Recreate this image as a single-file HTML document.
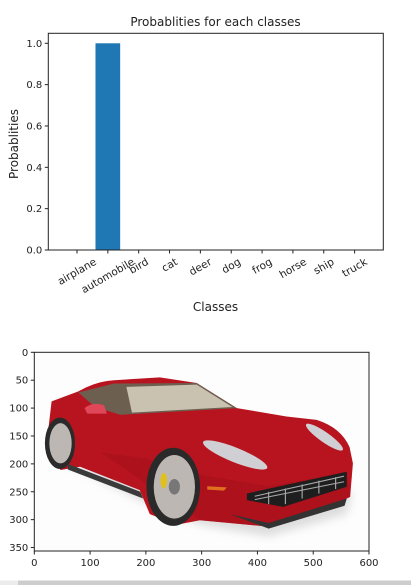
<!DOCTYPE html>
<html><head><meta charset="utf-8"><style>
html,body{margin:0;padding:0;background:#fff;width:411px;height:585px;overflow:hidden}
svg{display:block;font-family:"DejaVu Sans","Liberation Sans",sans-serif}
</style></head><body>
<svg width="411" height="585" viewBox="0 0 411 585">
<defs><filter id="bl"><feGaussianBlur stdDeviation="8"/></filter></defs>
<text x="215.5" y="26" font-size="12" text-anchor="middle" fill="#222">Probablities for each classes</text>
<g id="chart"></g>
<text x="18" y="144" font-size="12" text-anchor="middle" fill="#222" transform="rotate(-90 18 144)">Probablities</text>
<text x="215.5" y="311" font-size="12" text-anchor="middle" fill="#222">Classes</text>

<g>
<rect x="34.3" y="352.3" width="334.7" height="198.7" fill="#fdfdfd"/>
<g transform="translate(34.3,352.3) scale(0.558)">
<path d="M60,200 L200,270 L300,310 L420,330 L560,290 L570,250 L300,230 Z" fill="#cfcfcf" opacity="0.7" filter="url(#bl)"/>
<path d="M79,70 Q110,52 143,50 L225,45 L291,55 L363,100 L452,115 L506,121 Q550,135 565,170 L571,199 L566,259 L500,290 L416,312 L297,301 L255,309 L207,290 L189,247 L82,205 L47,211 Q25,180 25,139 L31,88 Z" fill="#b8141f"/>
<path d="M120,180 L200,190 L300,220 L420,240 L560,215 L566,259 L500,290 L416,312 L297,301 Z" fill="#a30f1a" opacity="0.6"/>
<path d="M60,200 L190,250 L195,262 L60,210 Z" fill="#3a3a3a"/>
<path d="M79,72 L143,56 L291,55 L363,100 L154,112 L109,98 Z" fill="#6d5f50"/>
<path d="M165,62 L291,58 L355,98 L175,108 Z" fill="#c9c2b0"/>
<path d="M90,100 Q105,88 125,95 L130,110 L95,110 Z" fill="#e0485a"/>
<ellipse cx="360" cy="184" rx="62" ry="13" transform="rotate(22 360 184)" fill="#d0d0d4"/>
<ellipse cx="520" cy="152" rx="40" ry="9" transform="rotate(35 520 152)" fill="#d0d0d4"/>
<path d="M381,253 L560,214 L560,241 L446,277 L381,265 Z" fill="#1e1e1e"/>
<path d="M395,258 L555,222 M395,264 L555,232 M420,250 L420,272 M450,244 L450,272 M480,237 L480,262 M510,230 L510,253 M540,224 L540,245" stroke="#aaa" stroke-width="2"/>
<path d="M350,290 L420,306 L560,262 L556,275 L420,316 Z" fill="#333"/>
<path d="M310,240 L345,242 L340,248 L310,246 Z" fill="#e07020"/>
<ellipse cx="249" cy="241" rx="48" ry="70" fill="#2a2a2a"/>
<ellipse cx="251" cy="241" rx="37" ry="57" fill="#bcb7b3"/>
<ellipse cx="251" cy="241" rx="10" ry="14" fill="#777"/>
<ellipse cx="232" cy="230" rx="6" ry="14" fill="#e0c020"/>
<ellipse cx="46" cy="163" rx="27" ry="46" fill="#2a2a2a"/>
<ellipse cx="47" cy="163" rx="20" ry="36" fill="#bcb7b3"/>
</g>
</g>
<g id="imgaxes"></g>
<rect x="0" y="580.5" width="18" height="4.5" fill="#ececec"/>
<rect x="18" y="580.5" width="393" height="4.5" fill="#cdcdcd"/>
</svg>
<script>
const categories=["airplane","automobile","bird","cat","deer","dog","frog","horse","ship","truck"];
const probs=[0,1,0,0,0,0,0,0,0,0];
const yTicks=[0,0.2,0.4,0.6,0.8,1.0];
const imgXTicks=[0,100,200,300,400,500,600];
const imgYTicks=[0,50,100,150,200,250,300,350];
const NS="http://www.w3.org/2000/svg";
function mk(t,a,p){const e=document.createElementNS(NS,t);for(const k in a)e.setAttribute(k,a[k]);p.appendChild(e);return e;}
const L=48.3,R=383.3,T=33.3,B=250;
const xs=i=>L+(i+0.93)*(R-L)/10.86;
const ys=v=>B-v*(B-43.3);
const g=document.getElementById('chart');
probs.forEach((v,i)=>{const w=0.8*(R-L)/10.86;
 const r=mk('rect',{x:xs(i)-w/2,y:ys(v),width:w,height:B-ys(v),fill:'#1f77b4'},g);
 
 });
mk('rect',{x:L,y:T,width:R-L,height:B-T,fill:'none',stroke:'#222','stroke-width':1},g);
yTicks.forEach(t=>{const y=ys(t);mk('line',{x1:L-3.5,x2:L,y1:y,y2:y,stroke:'#222'},g);
 const tx=mk('text',{x:L-6,y:y+3.5,'font-size':10,'text-anchor':'end',fill:'#222'},g);tx.textContent=t.toFixed(1);
 
 });
categories.forEach((c,i)=>{const x=xs(i);mk('line',{x1:x,x2:x,y1:B,y2:B+3.5,stroke:'#222'},g);
 const tx=mk('text',{x:0,y:0,'font-size':10.5,'text-anchor':'middle',fill:'#222'},g);tx.textContent=c;
 const w=tx.getComputedTextLength();
 const cy=B+6+(w*0.5+11*0.87)/2;
 tx.setAttribute('x',x);tx.setAttribute('y',cy+3.5);
 tx.setAttribute('transform',`rotate(-30 ${x} ${cy})`);
 
 });
const ia=document.getElementById('imgaxes');
const IL=34.3,IR=369,IT=352.3,IB=551,sc=(IR-IL)/600;
mk('rect',{x:IL,y:IT,width:IR-IL,height:IB-IT,fill:'none',stroke:'#222'},ia);
imgXTicks.forEach(t=>{const x=IL+t*sc;mk('line',{x1:x,x2:x,y1:IB,y2:IB+3.5,stroke:'#222'},ia);
 const tx=mk('text',{x:x,y:IB+15,'font-size':10,'text-anchor':'middle',fill:'#222'},ia);tx.textContent=t;
 
 });
imgYTicks.forEach(t=>{const y=IT+t*sc;mk('line',{x1:IL-3.5,x2:IL,y1:y,y2:y,stroke:'#222'},ia);
 const tx=mk('text',{x:IL-6,y:y+3.5,'font-size':10,'text-anchor':'end',fill:'#222'},ia);tx.textContent=t;
 
 });
</script>
</body></html>
